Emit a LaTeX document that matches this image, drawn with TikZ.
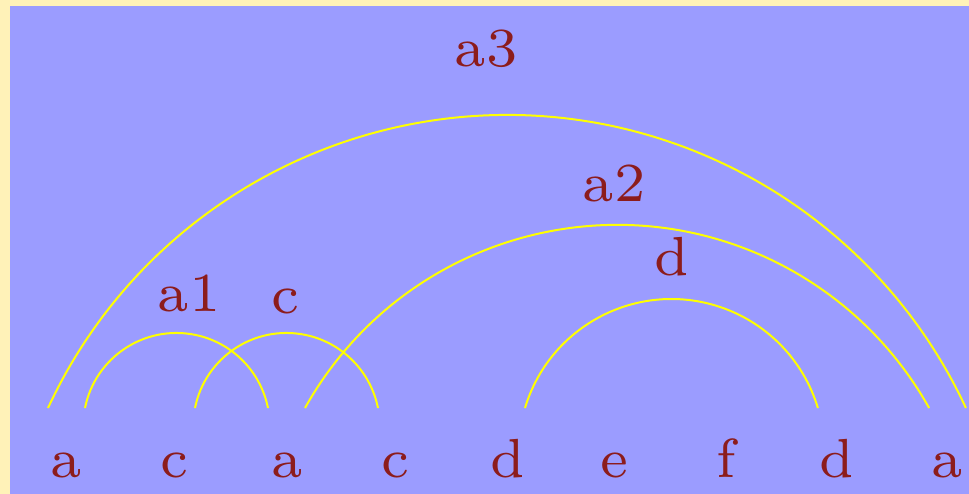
\documentclass[tikz,border=0pt]{standalone}
\definecolor{bgyellow}{RGB}{255,242,184}
\definecolor{bgblue}{RGB}{155,156,255}
\definecolor{txtred}{RGB}{140,28,28}
\definecolor{arcyellow}{RGB}{255,255,0}
\tikzset{
  word/.style={anchor=base,text=txtred,inner sep=0pt,font=\fontsize{7}{8}\selectfont,scale=7.9},
  arcline/.style={draw=arcyellow,line width=2bp},
}
\begin{document}
\begin{tikzpicture}[x=1bp,y=1bp]
\useasboundingbox (0,0) rectangle (969,494);
\fill[bgyellow] (0,0) rectangle (969,494);
\fill[bgblue] (10,0) rectangle (969,488);
% words
\node[word] (w1) at (66.5,16) {a};
\node[word] (w2) at (174.5,16) {c};
\node[word] (w3) at (287,16) {a};
\node[word] (w4) at (395,16) {c};
\node[word] (w5) at (507.5,16) {d};
\node[word] (w6) at (614.5,16) {e};
\node[word] (w7) at (726,16) {f};
\node[word] (w8) at (837,16) {d};
\node[word] (w9) at (947,16) {a};
% labels
\node[word] (la1) at (189,182) {a1};
\node[word] (lc) at (285,180) {c};
\node[word] (ld) at (672,218) {d};
\node[word] (la2) at (614,292) {a2};
\node[word] (la3) at (486,427) {a3};
% arc end points
\coordinate (s1) at (85,86);
\coordinate (s2) at (195,86);
\coordinate (s3) at (525,86);
\coordinate (s4) at (305,86);
\coordinate (s5) at (48,86);
% arcs
\draw[arcline] (s1) arc[start angle=168.7,end angle=11.3,radius=93.3];
\draw[arcline] (s2) arc[start angle=168.7,end angle=11.3,radius=93.3];
\draw[arcline] (s3) arc[start angle=163.3,end angle=16.7,radius=152.9];
\draw[arcline] (s4) arc[start angle=150.8,end angle=29.2,radius=357.5];
\draw[arcline] (s5) arc[start angle=155.1,end angle=24.9,radius=506];
\end{tikzpicture}
\end{document}
